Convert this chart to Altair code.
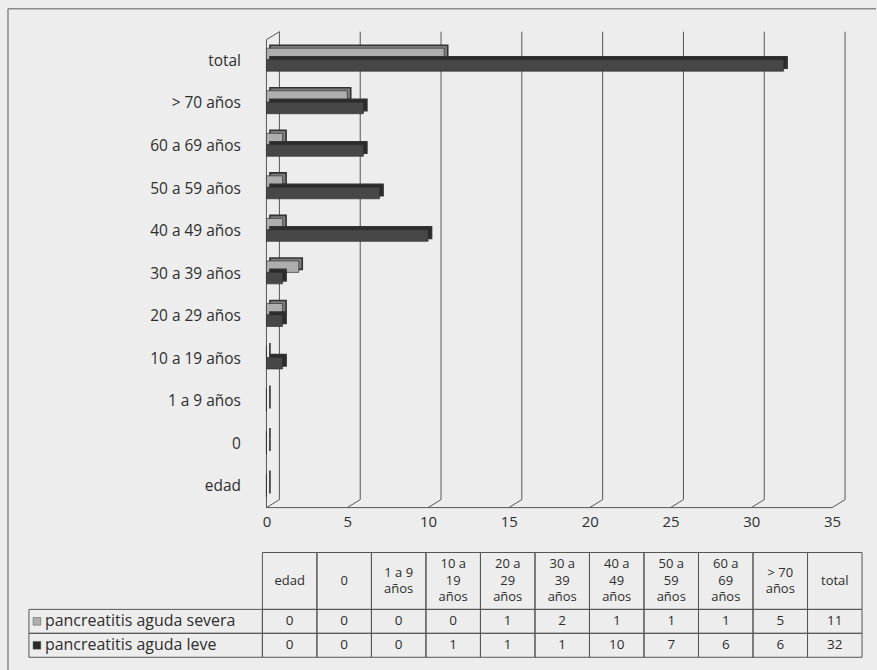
import altair as alt
import pandas as pd

# Age groups (bottom to top of the bar chart) and case counts per severity
categories = ["edad", "0", "1 a 9 años", "10 a 19 años", "20 a 29 años",
              "30 a 39 años", "40 a 49 años", "50 a 59 años", "60 a 69 años",
              "> 70 años", "total"]
severa = [0, 0, 0, 0, 1, 2, 1, 1, 1, 5, 11]
leve = [0, 0, 0, 1, 1, 1, 10, 7, 6, 6, 32]
series_names = ["pancreatitis aguda severa", "pancreatitis aguda leve"]
header_labels = ["edad", "0", "1 a 9\naños", "10 a\n19\naños", "20 a\n29\naños",
                 "30 a\n39\naños", "40 a\n49\naños", "50 a\n59\naños",
                 "60 a\n69\naños", "> 70\naños", "total"]
x_ticks = [0, 5, 10, 15, 20, 25, 30, 35]

FONT = "Open Sans"
TEXT = "#2e2e2e"
LINE = "#555555"
SEV_FRONT, SEV_DEPTH = "#aeaeae", "#7e7e7e"
LEV_FRONT, LEV_DEPTH = "#474747", "#2a2a2a"

W, H = 571, 469          # plot area of the bar chart
DX, DY = 13, 8           # depth of the 3-D wall

long_df = pd.DataFrame({
    "categoria": categories * 2,
    "serie": [series_names[0]] * len(categories) + [series_names[1]] * len(categories),
    "valor": severa + leve,
})
ticks_df = pd.DataFrame({"tick": x_ticks})
one_row = pd.DataFrame({"k": [0]})

x_scale = alt.Scale(domain=[-0.25, 35], nice=False, zero=False)
y_sort = list(reversed(categories))
y_enc = alt.Y("categoria:N", sort=y_sort,
              scale=alt.Scale(paddingInner=0, paddingOuter=0),
              axis=alt.Axis(title=None, ticks=False, domain=False,
                            labelFont=FONT, labelFontSize=15.5,
                            labelColor=TEXT, labelPadding=22))

# outer frame (left and top edges)
frame_left = alt.Chart(one_row).mark_rule(color="#8a8a8a", strokeWidth=1.5).encode(
    x=alt.value(-255), y=alt.value(-31), y2=alt.value(632))
frame_top = alt.Chart(one_row).mark_rule(color="#8a8a8a", strokeWidth=1.5).encode(
    x=alt.value(-255), x2=alt.value(615), y=alt.value(-31))

# back-wall gridlines and their slant down to the front floor edge
grid_back = alt.Chart(ticks_df).mark_rule(color=LINE, strokeWidth=1, xOffset=DX).encode(
    x=alt.X("tick:Q", scale=x_scale,
            axis=alt.Axis(values=x_ticks, title=None, ticks=False, domain=False,
                          grid=False, labelFlush=False, labelFont=FONT,
                          labelFontSize=15, labelColor=TEXT, labelPadding=7,
                          format="d")),
    y=alt.value(-DY), y2=alt.value(H - DY))
grid_slant = alt.Chart(ticks_df).mark_rule(color=LINE, strokeWidth=1,
                                           xOffset=DX, x2Offset=0).encode(
    x="tick:Q", x2="tick:Q", y=alt.value(H - DY), y2=alt.value(H))

# front edge of the left wall and of the floor
wall_front = alt.Chart(one_row).mark_rule(color=LINE, strokeWidth=1).encode(
    x=alt.datum(0), y=alt.value(0), y2=alt.value(H))
wall_top = alt.Chart(one_row).mark_rule(color=LINE, strokeWidth=1,
                                        xOffset=0, x2Offset=DX).encode(
    x=alt.datum(0), x2=alt.datum(0), y=alt.value(0), y2=alt.value(-DY))
floor_front = alt.Chart(one_row).mark_rule(color=LINE, strokeWidth=1).encode(
    x=alt.datum(0), x2=alt.datum(35), y=alt.value(H))

sev_df = long_df[long_df["serie"] == series_names[0]]
lev_df = long_df[long_df["serie"] == series_names[1]]


def bar_layer(df, color, y_off, x_off=0, stroke_w=0.7):
    return alt.Chart(df).mark_bar(
        size=11.5, yOffset=y_off, xOffset=x_off, color=color,
        stroke="#333333", strokeWidth=stroke_w
    ).encode(x="valor:Q", y=y_enc)


bars = alt.layer(
    bar_layer(sev_df, SEV_DEPTH, -10, 3.5, 1.6),
    bar_layer(sev_df, SEV_FRONT, -7),
    bar_layer(lev_df, LEV_DEPTH, 1.5, 3.5, 1.6),
    bar_layer(lev_df, LEV_FRONT, 4.5),
)

top = alt.layer(
    frame_left, frame_top, grid_back, grid_slant, wall_front, wall_top,
    floor_front, bars
).properties(width=W, height=H)

# data table under the chart
col_x = alt.X("categoria:N", sort=categories,
              scale=alt.Scale(paddingInner=0, paddingOuter=0), axis=None)
HEAD_H = 57
LINE_H = 16.5

header_cells = pd.DataFrame({"categoria": categories})
header_rows = []
for cat, lab in zip(categories, header_labels):
    parts = lab.split("\n")
    for i, part in enumerate(parts):
        header_rows.append({"categoria": cat, "texto": part, "linea": i, "n": len(parts)})
header_text_df = pd.DataFrame(header_rows)

header = alt.layer(
    alt.Chart(header_cells).mark_rect(fill="transparent", stroke=LINE, strokeWidth=1).encode(
        x=col_x, y=alt.value(0), y2=alt.value(HEAD_H)),
    alt.Chart(header_text_df).transform_calculate(
        ypos=f"{HEAD_H / 2} + (datum.linea - (datum.n - 1) / 2) * {LINE_H}"
    ).mark_text(font=FONT, fontSize=13, color=TEXT, baseline="middle").encode(
        x=col_x, y=alt.Y("ypos:Q", scale=None, axis=None), text="texto:N"),
).properties(width=601, height=HEAD_H)

row_y = alt.Y("serie:N", sort=series_names,
              scale=alt.Scale(paddingInner=0, paddingOuter=0), axis=None)
series_df = pd.DataFrame({"serie": series_names})
body = alt.layer(
    alt.Chart(long_df).mark_rect(fill="transparent", stroke=LINE, strokeWidth=1).encode(
        x=col_x, y=row_y),
    alt.Chart(long_df).mark_text(font=FONT, fontSize=13.5, color=TEXT).encode(
        x=col_x, y=row_y, text="valor:Q"),
    alt.Chart(series_df).mark_rect(fill="transparent", stroke=LINE, strokeWidth=1).encode(
        x=alt.value(-234), x2=alt.value(0), y=row_y),
    alt.Chart(series_df).mark_square(size=60, opacity=1, stroke="#555555",
                                     strokeWidth=0.5).encode(
        x=alt.value(-226), y=row_y,
        color=alt.Color("serie:N", scale=alt.Scale(domain=series_names,
                                                   range=[SEV_FRONT, LEV_DEPTH]),
                        legend=None)),
    alt.Chart(series_df).mark_text(align="left", font=FONT, fontSize=16,
                                   color=TEXT).encode(
        x=alt.value(-218), y=row_y, text="serie:N"),
).properties(width=601, height=48)

table = alt.vconcat(header, body, spacing=0, bounds="flush").resolve_scale(
    x="independent", y="independent")

chart = alt.vconcat(top, table, spacing=45, bounds="flush").resolve_scale(
    x="independent", y="independent", color="independent"
).properties(
    padding={"left": 7, "top": 7, "right": 0, "bottom": 0},
    background="#ededed",
).configure_view(stroke=None)

chart.save("out.html", embed_options={"renderer": "svg", "actions": False})
